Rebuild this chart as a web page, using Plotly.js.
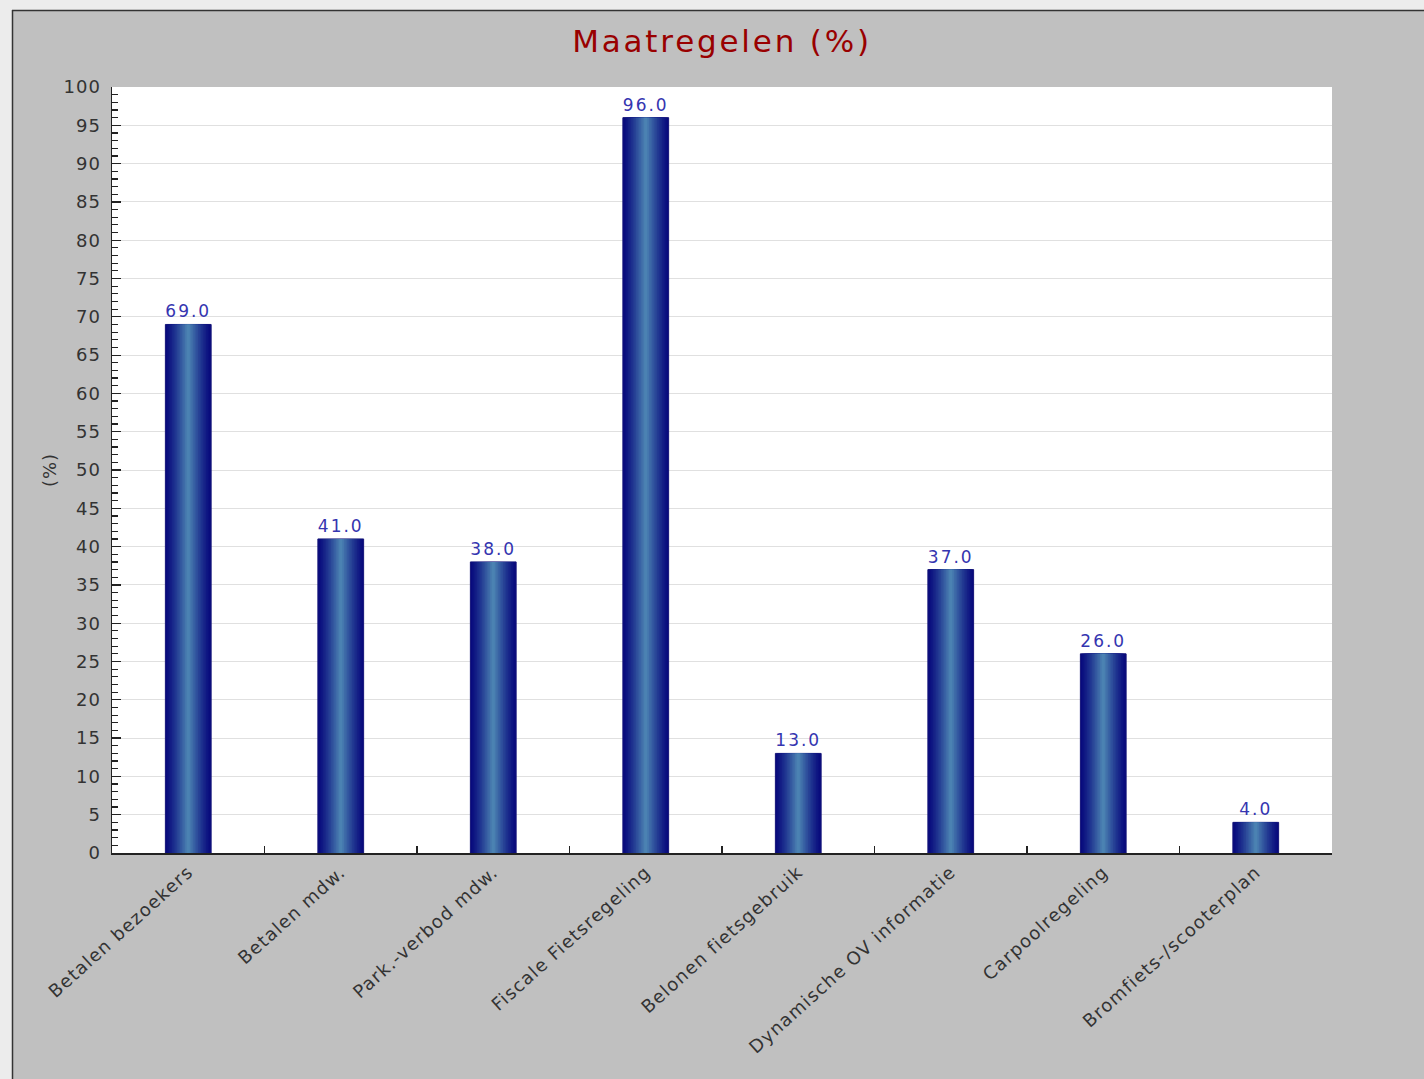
<!DOCTYPE html>
<html>
<head>
<meta charset="utf-8">
<script src="https://cdn.plot.ly/plotly-3.0.1.min.js"></script>
<style>
html,body{margin:0;padding:0;background:#c0c0c0;}
#chart{width:1424px;height:1079px;}
#chart .gtitle{letter-spacing:2.8px;}
#chart .bartext{letter-spacing:2px;}
#chart .xtick text{letter-spacing:1.2px;}
#chart .ytick text{letter-spacing:1px;}
#chart .ytitle{letter-spacing:1px;}
</style>
</head>
<body>
<div id="chart"></div>
<script>
// ---- data ----
const categories = ["Betalen bezoekers", "Betalen mdw.", "Park.-verbod mdw.", "Fiscale Fietsregeling", "Belonen fietsgebruik", "Dynamische OV informatie", "Carpoolregeling", "Bromfiets-/scooterplan"];
const values = [69.0, 41.0, 38.0, 96.0, 13.0, 37.0, 26.0, 4.0];
const chartTitle = "Maatregelen (%)";
const yTitle = "(%)";

// ---- styling ----
const W = 1424, H = 1079;
const M = {l: 112, r: 92, t: 87, b: 226};
const PW = W - M.l - M.r, PH = H - M.t - M.b;
const px2x = p => (p - M.l) / PW;
const px2y = p => (H - M.b - p) / PH;
const FONT = "DejaVu Sans";

const edge = [8, 10, 125];
const center = [75, 130, 178];
const N = 14;
const barWidth = 0.30;
const traces = [];
for (let k = 0; k < N; k++) {
  const f = k / (N - 1);
  const c = edge.map((e, i) => Math.round(e + (center[i] - e) * Math.pow(f, 1.2)));
  const t = {
    type: "bar",
    x: categories,
    y: values,
    width: barWidth * (1 - k / N),
    marker: {color: `rgb(${c[0]},${c[1]},${c[2]})`, line: {width: 0}},
    hoverinfo: "skip",
    showlegend: false
  };
  if (k === 0) {
    t.marker.line = {width: 1, color: "rgb(20,20,120)"};
    t.texttemplate = "%{y:.1f}";
    t.textposition = "outside";
    t.textfont = {family: FONT, size: 17, color: "#3535b0"};
    t.cliponaxis = false;
  }
  traces.push(t);
}

const shapes = [
  {type: "rect", xref: "paper", yref: "paper", x0: px2x(-5), x1: px2x(W + 5), y0: px2y(10), y1: px2y(-5), fillcolor: "#ececec", line: {width: 0}},
  {type: "rect", xref: "paper", yref: "paper", x0: px2x(-5), x1: px2x(12), y0: px2y(H + 5), y1: px2y(-5), fillcolor: "#ececec", line: {width: 0}},
  {type: "line", xref: "paper", yref: "paper", x0: px2x(12.5), x1: px2x(12.5), y0: px2y(10), y1: px2y(H + 5), line: {color: "#333333", width: 1.5}},
  {type: "line", xref: "paper", yref: "paper", x0: px2x(12), x1: px2x(W + 5), y0: px2y(10.5), y1: px2y(10.5), line: {color: "#333333", width: 1.5}}
];

const layout = {
  width: W, height: H,
  margin: M,
  paper_bgcolor: "#c0c0c0",
  plot_bgcolor: "#ffffff",
  barmode: "overlay",
  font: {family: FONT, color: "#333333"},
  title: {text: chartTitle, font: {family: FONT, size: 31, color: "#990000"}, x: 0.5, xref: "paper", xanchor: "center", y: 1 - 41 / H, yref: "container", yanchor: "middle"},
  xaxis: {
    type: "category",
    showline: true, linecolor: "#222222", linewidth: 1.5, mirror: false,
    showgrid: false, zeroline: false,
    ticks: "inside", tickson: "boundaries", ticklen: 7, tickcolor: "#222222", tickwidth: 1.2,
    tickangle: -42,
    tickfont: {family: FONT, size: 18, color: "#333333"}
  },
  yaxis: {
    range: [0, 100], autorange: false,
    dtick: 5, tick0: 0,
    showline: true, linecolor: "#222222", linewidth: 1.5, mirror: false,
    showgrid: true, gridcolor: "#e0e0e0", gridwidth: 1, zeroline: false,
    ticks: "inside", ticklen: 9, tickcolor: "#222222", tickwidth: 1.2,
    minor: {ticks: "inside", dtick: 1, ticklen: 6, tickcolor: "#222222", tickwidth: 1.2, showgrid: false},
    ticklabelstandoff: 6,
    tickfont: {family: FONT, size: 18, color: "#333333"},
    title: {text: yTitle, font: {family: FONT, size: 18, color: "#333333"}, standoff: 5}
  },
  shapes: shapes
};

Plotly.newPlot("chart", traces, layout, {displayModeBar: false, staticPlot: true});
</script>
</body>
</html>
